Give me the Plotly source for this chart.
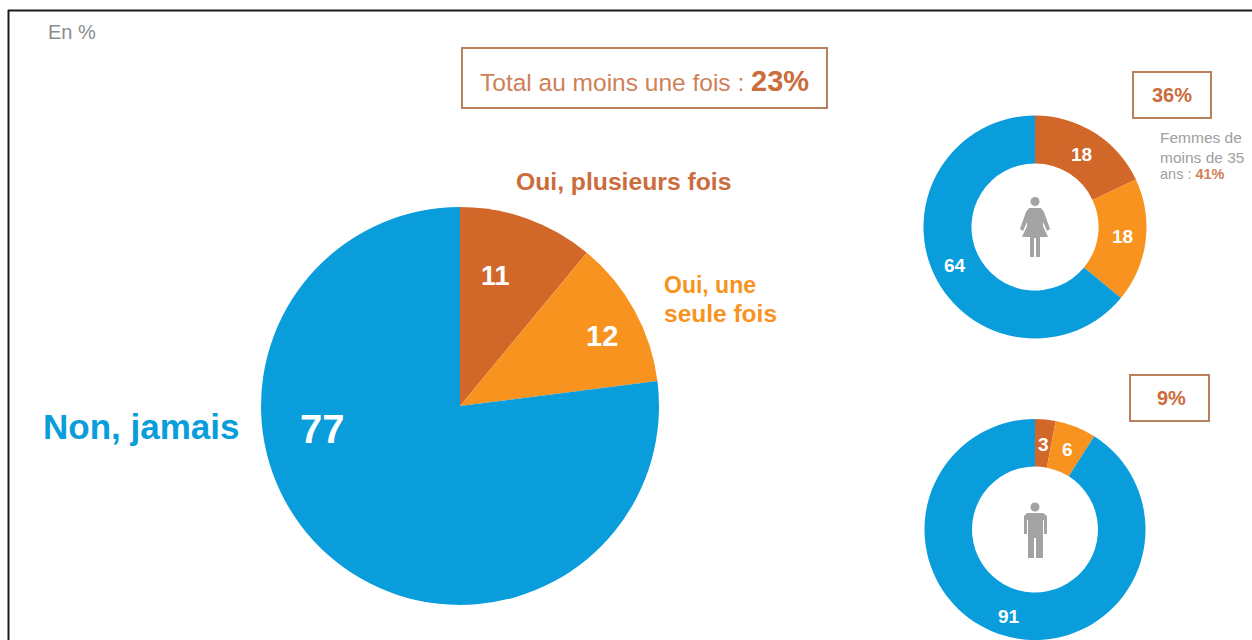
import plotly.graph_objects as go

W, H = 1252, 640
FONT = "Liberation Sans"
BLUE, ORANGE, BRICK = "#0a9ddb", "#f7931e", "#d2672a"
GREY = "#8c8c8c"
SOFT_BRICK = "#cf8058"
BOLD_BRICK = "#cb6c3c"
BOX = "#b9805c"

categories = ["Oui, plusieurs fois", "Oui, une seule fois", "Non, jamais"]
total_values = [11, 12, 77]
women_values = [18, 18, 64]
men_values = [3, 6, 91]
total_once = 23
women_total = 36
men_total = 9
women_under_35 = 41
colors = [BRICK, ORANGE, BLUE]


def px(x):
    return x / W


def py(y):
    return 1 - y / H


def pie(values, cx, cy, r, hole=0):
    return go.Pie(
        labels=categories, values=values, sort=False, direction="clockwise", rotation=0,
        hole=hole, textinfo="none", hoverinfo="label+value", showlegend=False,
        marker=dict(colors=colors, line=dict(width=0)),
        domain=dict(x=[px(cx - r), px(cx + r)], y=[max(py(cy + r), 0), py(cy - r)]),
    )


fig = go.Figure([
    pie(total_values, 460, 406, 199),
    pie(women_values, 1035, 227, 111.5, 0.57),
    pie(men_values, 1035, 529.5, 110.5, 0.57),
])


def note(text, x, y, size, color, anchor="left", bold=False):
    return dict(
        text=f"<b>{text}</b>" if bold else str(text),
        x=px(x), y=py(y), xref="paper", yref="paper", xanchor=anchor, yanchor="middle",
        showarrow=False, align="left", font=dict(family=FONT, size=size, color=color),
    )


annotations = [
    note("En %", 46, 32, 20, GREY),
    note(f'Total au moins une fois : <span style="font-size:29px;color:{BOLD_BRICK}"><b>{total_once}%</b></span>',
         478, 81, 24.5, SOFT_BRICK),
    note(categories[0], 514, 181, 24.7, BOLD_BRICK, bold=True),
    note("Oui, une", 662, 285, 23, ORANGE, bold=True),
    note("seule fois", 662, 313, 24.5, ORANGE, bold=True),
    note(categories[2], 41, 426, 35, BLUE, bold=True),
    note(total_values[0], 495, 276, 27, "white", "center", True),
    note(total_values[1], 602, 336, 29, "white", "center", True),
    note(total_values[2], 322, 429, 40, "white", "center", True),
    note(f"{women_total}%", 1172, 95, 20, BOLD_BRICK, "center", True),
    note("Femmes de", 1158, 137, 15.5, "#a0a0a0"),
    note("moins de 35", 1158, 157, 15.5, "#a0a0a0"),
    note(f'ans : <b style="color:{SOFT_BRICK}">{women_under_35}%</b>', 1158, 174, 14.5, "#a0a0a0"),
    note(women_values[0], 1081, 154, 19, "white", "center", True),
    note(women_values[1], 1122, 236, 19, "white", "center", True),
    note(women_values[2], 955, 265, 19, "white", "center", True),
    note(f"{men_total}%", 1171, 398, 20, BOLD_BRICK, "center", True),
    note(men_values[0], 1043, 444, 19, "white", "center", True),
    note(men_values[1], 1067, 449, 19, "white", "center", True),
    note(men_values[2], 1009, 616, 19, "white", "center", True),
]


def rect(x0, y0, x1, y1, color, width=2):
    return dict(type="rect", xref="paper", yref="paper", x0=px(x0), x1=px(x1), y0=py(y0), y1=py(y1),
                line=dict(color=color, width=width), layer="above")


def poly(points, color):
    d = "M " + " L ".join(f"{px(x)} {py(y)}" for x, y in points) + " Z"
    return dict(type="path", xref="paper", yref="paper", path=d, fillcolor=color,
                line=dict(width=0), layer="above")


def head(cx, cy, r, color):
    return dict(type="circle", xref="paper", yref="paper", x0=px(cx - r), x1=px(cx + r),
                y0=py(cy + r), y1=py(cy - r), fillcolor=color, line=dict(width=0), layer="above")


ICON = "#a3a3a3"
shapes = [
    dict(type="line", xref="paper", yref="paper", x0=px(8.5), x1=px(8.5), y0=0, y1=py(10),
         line=dict(color="#1a1a1a", width=2)),
    dict(type="line", xref="paper", yref="paper", x0=px(8), x1=1, y0=py(10.5), y1=py(10.5),
         line=dict(color="#1a1a1a", width=2)),
    rect(462, 48, 827, 108, BOX),
    rect(1133, 72, 1211, 118, BOX),
    rect(1130, 375, 1209, 421, BOX),
    head(1035, 201.5, 4.5, ICON),
    poly([(1029, 208), (1041, 208), (1044, 212), (1050, 229), (1047, 231), (1043, 222), (1043, 226),
          (1048, 237), (1040, 237), (1040, 257), (1036, 257), (1036, 238), (1034, 238), (1034, 257),
          (1030, 257), (1030, 237), (1022, 237), (1027, 226), (1027, 222), (1023, 231), (1020, 229),
          (1026, 212)], ICON),
    head(1035, 507, 4.5, ICON),
    poly([(1027, 513), (1043, 513), (1047, 516), (1047, 534), (1044, 534), (1044, 520), (1043, 520),
          (1043, 558), (1036, 558), (1036, 538), (1034, 538), (1034, 558), (1028, 558), (1028, 520),
          (1027, 520), (1027, 534), (1024, 534), (1024, 516)], ICON),
]

fig.update_layout(
    width=W, height=H, margin=dict(l=0, r=0, t=0, b=0),
    paper_bgcolor="white", plot_bgcolor="white",
    annotations=annotations, shapes=shapes, showlegend=False,
)

fig.write_html(
    "out.html",
    config=dict(displayModeBar=False),
    post_script="document.body.style.margin='0';document.documentElement.style.overflow='hidden';",
)
